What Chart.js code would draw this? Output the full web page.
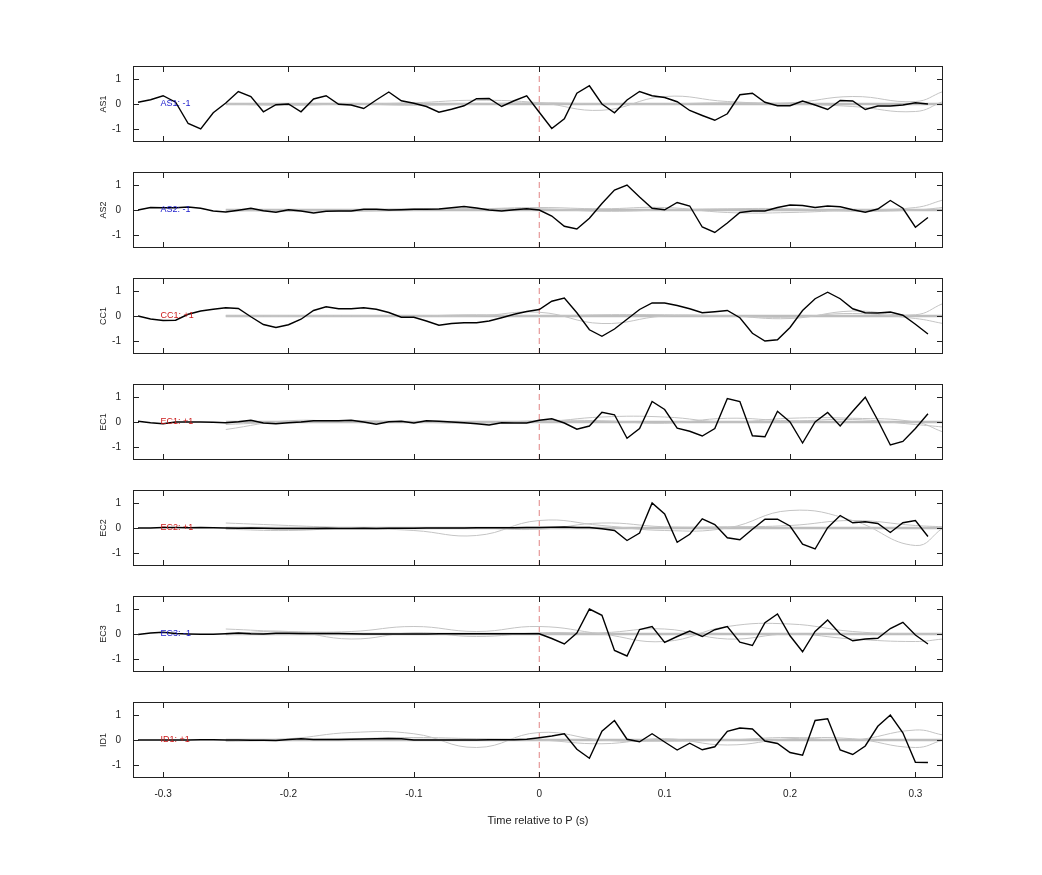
<!DOCTYPE html>
<html>
<head>
<meta charset="utf-8">
<script src="https://cdn.jsdelivr.net/npm/chart.js@4"></script>
<style>
  body { margin: 0; background: #fff; }
  #wrap { position: relative; width: 1042px; height: 875px; }
  canvas { position: absolute; left: 0; }
</style>
</head>
<body>
<div id="wrap"></div>
<script>
// time axis of the black traces (s)
const times = [-0.32,-0.31,-0.30,-0.29,-0.28,-0.27,-0.26,-0.25,-0.24,-0.23,-0.22,-0.21,-0.20,-0.19,-0.18,-0.17,
  -0.16,-0.15,-0.14,-0.13,-0.12,-0.11,-0.10,-0.09,-0.08,-0.07,-0.06,-0.05,-0.04,-0.03,-0.02,-0.01,
  0.00,0.01,0.02,0.03,0.04,0.05,0.06,0.07,0.08,0.09,0.10,0.11,0.12,0.13,0.14,0.15,
  0.16,0.17,0.18,0.19,0.20,0.21,0.22,0.23,0.24,0.25,0.26,0.27,0.28,0.29,0.30,0.31];
// knots of the smooth grey traces
const knotTimes = [-0.25,-0.2,-0.15,-0.1,-0.05,0,0.05,0.1,0.15,0.2,0.25,0.3,0.322];
const xTicks = [-0.3,-0.2,-0.1,0,0.1,0.2,0.3];
const xTickLabels = ['-0.3','-0.2','-0.1','0','0.1','0.2','0.3'];
const yTicks = [-1,0,1];

const channels = ['AS1','AS2','CC1','EC1','EC2','EC3','ID1'];
const signs = ['-1','-1','+1','+1','+1','-1','+1'];

const as1 = [0.07,0.17,0.33,0.07,-0.78,-1.0,-0.35,0.04,0.5,0.3,-0.31,-0.03,0,-0.31,0.2,0.33,-0.01,-0.04,-0.18,0.16,
  0.48,0.13,0.03,-0.1,-0.33,-0.21,-0.07,0.21,0.22,-0.1,0.13,0.33,-0.33,-0.98,-0.59,0.43,0.73,0,-0.35,0.16,
  0.5,0.33,0.26,0.09,-0.26,-0.46,-0.65,-0.39,0.37,0.43,0.07,-0.07,-0.07,0.12,-0.04,-0.22,0.14,0.12,-0.22,-0.08,
  -0.08,-0.04,0.05,0];
const as2 = [0,0.1,0.09,0.09,0.12,0.07,-0.04,-0.08,-0.01,0.07,-0.03,-0.09,0.01,-0.04,-0.12,-0.05,-0.04,-0.04,0.03,0.03,
  0,0.01,0.03,0.03,0.04,0.09,0.14,0.08,0,-0.04,0.01,0.05,0,-0.24,-0.65,-0.76,-0.33,0.26,0.8,1.0,
  0.52,0.07,0.01,0.3,0.16,-0.68,-0.9,-0.52,-0.1,-0.04,-0.04,0.1,0.2,0.18,0.1,0.16,0.13,0.01,-0.09,0.04,
  0.38,0.07,-0.69,-0.3];
const cc1 = [0,-0.12,-0.18,-0.17,0.07,0.2,0.27,0.33,0.3,-0.03,-0.34,-0.46,-0.35,-0.13,0.22,0.37,0.29,0.29,0.33,0.27,
  0.14,-0.05,-0.05,-0.2,-0.37,-0.3,-0.27,-0.27,-0.2,-0.07,0.07,0.18,0.26,0.59,0.72,0.13,-0.55,-0.81,-0.52,-0.13,
  0.26,0.52,0.52,0.42,0.29,0.13,0.17,0.22,-0.07,-0.69,-1.0,-0.95,-0.46,0.22,0.69,0.95,0.69,0.29,0.13,0.12,
  0.16,0.03,-0.33,-0.72];
const ec1 = [0.03,-0.03,-0.07,0,0,0,-0.01,-0.03,0.01,0.07,-0.04,-0.07,-0.03,0,0.05,0.05,0.05,0.07,0,-0.09,
  0.01,0.03,-0.04,0.05,0.03,0,-0.03,-0.07,-0.12,-0.03,-0.04,-0.04,0.07,0.13,-0.04,-0.29,-0.16,0.39,0.29,-0.65,
  -0.26,0.82,0.5,-0.25,-0.37,-0.56,-0.26,0.94,0.82,-0.55,-0.59,0.43,0,-0.84,0,0.38,-0.16,0.43,0.99,0.07,
  -0.92,-0.78,-0.26,0.33];
const ec2 = [0,0,0.02,0.02,0.01,0.02,0.01,0,-0.01,0,-0.01,-0.02,-0.02,-0.02,-0.02,-0.01,-0.02,-0.02,-0.01,-0.02,
  -0.01,-0.01,-0.01,0,0,0,0,0.01,0.01,0.01,0.01,0.02,0.02,0.03,0.04,0.02,0.02,-0.03,-0.1,-0.5,
  -0.2,1.0,0.56,-0.57,-0.25,0.37,0.14,-0.39,-0.47,-0.05,0.35,0.35,0.08,-0.65,-0.84,0.01,0.5,0.21,0.25,0.18,
  -0.18,0.21,0.3,-0.34];
const ec3 = [-0.02,0.04,0.07,0.02,0,-0.01,-0.01,0.01,0.04,0.01,0,0.03,0.03,0.02,0.02,0.02,0.02,0.01,0,0,
  0,0,0,0,0.01,0.01,0.01,0.01,0.01,0.01,0.01,0.01,0.01,-0.18,-0.4,0.04,1.0,0.75,-0.66,-0.88,
  0.18,0.3,-0.34,-0.1,0.12,-0.1,0.17,0.3,-0.33,-0.46,0.45,0.8,-0.07,-0.71,0.1,0.56,0,-0.27,-0.2,-0.17,
  0.22,0.47,-0.04,-0.4];
const id1 = [0,0,0,0,0,0.01,0.01,0,0,-0.01,-0.01,-0.02,0.02,0.05,0.02,0.02,0.02,0.03,0.04,0.05,
  0.06,0.05,0,0,0,0,0,0,0.01,0.01,0.01,0.03,0.09,0.16,0.25,-0.37,-0.73,0.35,0.78,0.03,
  -0.07,0.25,-0.08,-0.4,-0.13,-0.39,-0.27,0.35,0.48,0.44,-0.04,-0.14,-0.5,-0.61,0.78,0.85,-0.4,-0.58,-0.24,0.55,
  1.0,0.29,-0.89,-0.9];
const blackSeries = [as1, as2, cc1, ec1, ec2, ec3, id1];

// grey traces (two wavy + one flat per panel)
const greyA = [
  [0,0,0,0.05,0.15,0.05,-0.25,0.3,0.1,0.05,0.3,0.1,0.5],
  [0,-0.05,0,0.05,0.05,0.1,0.05,0.1,-0.1,-0.1,0,0.1,0.4],
  [0,0,0,0,0,0.15,-0.3,0,0,-0.1,0.2,0.05,0.5],
  [-0.3,0.05,0,0,0,0,0.2,0.2,0,0.15,0.15,0,-0.4],
  [0.2,0.1,0,-0.1,-0.3,0.3,0.1,-0.1,0,0.7,0.3,-0.7,0],
  [0.2,0.1,0.1,0.3,0.1,0.3,0,-0.3,0.3,0.4,0.1,0,0],
  [0,0.05,0.3,0.25,-0.3,0.3,0,-0.05,0,0.1,0,0.4,0.2]
];
const greyB = [
  [0,-0.05,0,-0.05,0,0.05,0,0,0.05,0,-0.1,-0.3,0.1],
  [-0.05,0,-0.05,0,0.05,0.05,-0.05,0,0.05,0.05,-0.05,0,0.1],
  [0,0,0,0,0.05,0,0.05,0.05,0,-0.05,0.1,-0.1,-0.3],
  [-0.1,0,0.05,0,-0.05,0.05,0.05,-0.05,0.15,0.05,0.1,-0.1,-0.2],
  [-0.05,-0.1,0,0,0,-0.05,0.2,0.05,0.05,0.1,0.3,0.1,0.05],
  [0,0.1,-0.2,0.05,-0.1,0.05,0.05,0.2,-0.2,0,-0.2,-0.3,-0.2],
  [-0.05,0,0.05,0.1,0.05,0,-0.15,0.05,-0.2,0.05,0.05,-0.3,0]
];
const greyFlat = [0,0,0,0,0,0,0,0,0,0,0,0,0];

const FONT = 'Liberation Sans, Arial, sans-serif';

const frame = {
  id: 'frame',
  beforeDatasetsDraw(chart) {
    const { ctx, chartArea: a, scales: { x } } = chart;
    const x0 = x.getPixelForValue(0);
    ctx.save();
    ctx.strokeStyle = 'rgba(220,110,110,0.85)';
    ctx.lineWidth = 1;
    ctx.setLineDash([6, 4]);
    ctx.beginPath();
    ctx.moveTo(x0, a.top + 10);
    ctx.lineTo(x0, a.bottom);
    ctx.stroke();
    ctx.restore();
  },
  afterDraw(chart, args, opts) {
    const { ctx, chartArea: a, scales: { x, y } } = chart;
    ctx.save();
    ctx.strokeStyle = '#222';
    ctx.lineWidth = 1;
    ctx.strokeRect(a.left + 0.5, a.top + 0.5, a.width - 1, a.height - 1);
    ctx.beginPath();
    xTicks.forEach(v => {
      const px = Math.round(x.getPixelForValue(v)) + 0.5;
      ctx.moveTo(px, a.bottom); ctx.lineTo(px, a.bottom - 6);
      ctx.moveTo(px, a.top); ctx.lineTo(px, a.top + 6);
    });
    yTicks.forEach(v => {
      const py = Math.round(y.getPixelForValue(v)) + 0.5;
      ctx.moveTo(a.left, py); ctx.lineTo(a.left + 6, py);
      ctx.moveTo(a.right, py); ctx.lineTo(a.right - 6, py);
    });
    ctx.stroke();
    // y label (channel name), rotated
    ctx.fillStyle = '#222';
    ctx.font = '9px ' + FONT;
    ctx.textAlign = 'center';
    ctx.textBaseline = 'middle';
    ctx.translate(104, y.getPixelForValue(0));
    ctx.rotate(-Math.PI / 2);
    ctx.fillText(opts.name, 0, 0);
    ctx.setTransform(1, 0, 0, 1, 0, 0);
    // channel tag inside the panel
    ctx.fillStyle = opts.sign === '-1' ? '#1a1acc' : '#cc1a1a';
    ctx.textAlign = 'left';
    ctx.fillText(opts.name + ': ' + opts.sign, x.getPixelForValue(-0.302), y.getPixelForValue(0));
    ctx.restore();
  }
};

const wrap = document.getElementById('wrap');
channels.forEach((name, i) => {
  const last = i === channels.length - 1;
  const cv = document.createElement('canvas');
  const h = last ? 140 : 96;
  cv.width = 1042; cv.height = h;
  cv.style.top = (56 + 106 * i) + 'px';
  wrap.appendChild(cv);

  const pts = arr => arr.map((v, k) => ({ x: times[k], y: v }));
  const kpts = arr => arr.map((v, k) => ({ x: knotTimes[k], y: v }));

  new Chart(cv, {
    type: 'line',
    data: {
      datasets: [
        { data: pts(blackSeries[i]), borderColor: '#000', borderWidth: 1.4, tension: 0 },
        { data: kpts(greyA[i]), borderColor: '#c4c4c4', borderWidth: 1, tension: 0.45 },
        { data: kpts(greyB[i]), borderColor: '#c4c4c4', borderWidth: 1, tension: 0.45 },
        { data: kpts(greyFlat), borderColor: '#bdbdbd', borderWidth: 2.5, tension: 0 }
      ]
    },
    options: {
      responsive: false,
      animation: false,
      devicePixelRatio: 1,
      elements: { point: { radius: 0 } },
      layout: { padding: { left: 0, right: 99, top: 6, bottom: 0 } },
      plugins: { legend: { display: false }, tooltip: { enabled: false },
                 frame: { name: name, sign: signs[i] } },
      scales: {
        x: {
          type: 'linear', min: -0.324, max: 0.322,
          afterBuildTicks: s => { s.ticks = xTicks.map(v => ({ value: v })); },
          afterFit: s => { s.height = last ? 54 : 5; },
          grid: { display: false },
          border: { display: false },
          ticks: {
            display: last, color: '#222', font: { size: 10, family: FONT }, maxRotation: 0, padding: 2,
            callback: (v, idx) => xTickLabels[idx]
          },
          title: { display: last, text: 'Time relative to P (s)', color: '#222',
                   font: { size: 11, family: FONT }, padding: { top: 8 } }
        },
        y: {
          min: -1.52, max: 1.52,
          afterBuildTicks: s => { s.ticks = yTicks.map(v => ({ value: v })); },
          afterFit: s => { s.width = 133; },
          grid: { display: false },
          border: { display: false },
          ticks: { color: '#222', font: { size: 10, family: FONT }, padding: 4 },
          title: { display: false }
        }
      }
    },
    plugins: [frame]
  });
});
</script>
</body>
</html>
